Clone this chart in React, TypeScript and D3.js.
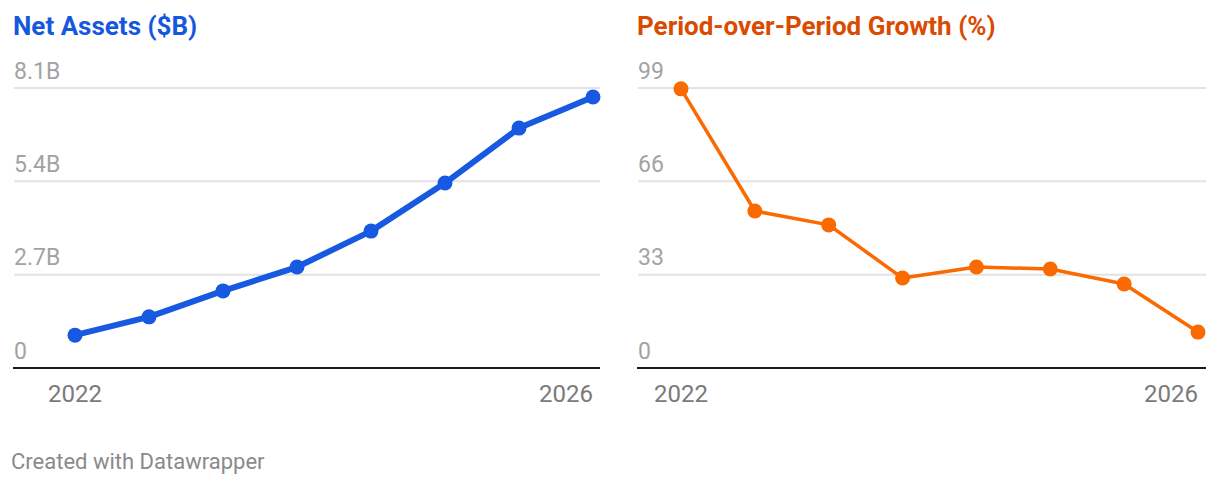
import React, { useEffect, useRef } from "react";
import * as d3 from "d3";

const periods = ["2022", "2022b", "2023a", "2023b", "2024a", "2024b", "2025a", "2026"];
const tickLabels = ["2022", "2026"];
const netAssets = [0.95, 1.48, 2.23, 2.92, 3.96, 5.35, 6.94, 7.84];
const growth = [98.7, 55.5, 50.6, 31.8, 35.7, 35.0, 29.7, 12.7];
const assetTicks = [0, 2.7, 5.4, 8.1];
const assetTickLabels = ["0", "2.7B", "5.4B", "8.1B"];
const growthTicks = [0, 33, 66, 99];
const growthTickLabels = ["0", "33", "66", "99"];

const W = 1204;
const H = 476;
const FONT = "Roboto, 'Noto Sans', sans-serif";

interface Panel {
  title: string;
  titleColor: string;
  lineColor: string;
  lineWidth: number;
  values: number[];
  ticks: number[];
  tickText: string[];
  left: number;
  right: number;
  x0: number;
  x1: number;
}

const panels: Panel[] = [
  {
    title: "Net Assets ($B)",
    titleColor: "#1657e0",
    lineColor: "#1859e2",
    lineWidth: 6,
    values: netAssets,
    ticks: assetTicks,
    tickText: assetTickLabels,
    left: 5,
    right: 592,
    x0: 67,
    x1: 585,
  },
  {
    title: "Period-over-Period Growth (%)",
    titleColor: "#d94b00",
    lineColor: "#fa6a00",
    lineWidth: 3.5,
    values: growth,
    ticks: growthTicks,
    tickText: growthTickLabels,
    left: 629,
    right: 1198,
    x0: 673,
    x1: 1190,
  },
];

const App: React.FC = () => {
  const svgRef = useRef<SVGSVGElement | null>(null);

  useEffect(() => {
    if (!svgRef.current) return;
    const svg = d3.select(svgRef.current);
    svg.selectAll("*").remove();
    svg.attr("width", W).attr("height", H).style("display", "block");

    const top = 80;
    const bottom = 360;

    panels.forEach((p) => {
      const g = svg.append("g");
      const x = d3.scalePoint<string>().domain(periods).range([p.x0, p.x1]);
      const y = d3
        .scaleLinear()
        .domain([0, p.ticks[p.ticks.length - 1]])
        .range([bottom, top]);

      g.append("text")
        .attr("x", p.left)
        .attr("y", 27)
        .attr("font-family", FONT)
        .attr("font-weight", 700)
        .attr("font-size", 26)
        .attr("fill", p.titleColor)
        .text(p.title);

      // gridlines + tick labels
      p.ticks.forEach((t, i) => {
        if (t !== 0) {
          g.append("line")
            .attr("x1", p.left + 1)
            .attr("x2", p.right)
            .attr("y1", y(t))
            .attr("y2", y(t))
            .attr("stroke", "#e2e2e2")
            .attr("stroke-width", 2);
        }
        g.append("text")
          .attr("x", p.left + 1)
          .attr("y", y(t) - 9.5)
          .attr("font-family", FONT)
          .attr("font-size", 23)
          .attr("fill", "#a3a3a3")
          .text(p.tickText[i]);
      });

      // baseline
      g.append("line")
        .attr("x1", p.left)
        .attr("x2", p.right)
        .attr("y1", y(0))
        .attr("y2", y(0))
        .attr("stroke", "#1a1a1a")
        .attr("stroke-width", 2);

      // x labels
      g.append("text")
        .attr("x", x(periods[0])!)
        .attr("y", bottom + 34)
        .attr("text-anchor", "middle")
        .attr("font-family", FONT)
        .attr("font-size", 24)
        .attr("fill", "#7a7a7a")
        .text(tickLabels[0]);
      g.append("text")
        .attr("x", x(periods[periods.length - 1])!)
        .attr("y", bottom + 34)
        .attr("text-anchor", "end")
        .attr("font-family", FONT)
        .attr("font-size", 24)
        .attr("fill", "#7a7a7a")
        .text(tickLabels[1]);

      const line = d3
        .line<number>()
        .x((_, i) => x(periods[i])!)
        .y((d) => y(d));

      g.append("path")
        .datum(p.values)
        .attr("d", line)
        .attr("fill", "none")
        .attr("stroke", p.lineColor)
        .attr("stroke-width", p.lineWidth)
        .attr("stroke-linejoin", "round");

      g.selectAll("circle.dot")
        .data(p.values)
        .enter()
        .append("circle")
        .attr("class", "dot")
        .attr("cx", (_, i) => x(periods[i])!)
        .attr("cy", (d) => y(d))
        .attr("r", 7.5)
        .attr("fill", p.lineColor);
    });

    svg
      .append("text")
      .attr("x", 3)
      .attr("y", 461)
      .attr("font-family", FONT)
      .attr("font-size", 22)
      .attr("fill", "#8a8a8a")
      .text("Created with Datawrapper");
  }, []);

  return <svg ref={svgRef}></svg>;
};

export default App;
